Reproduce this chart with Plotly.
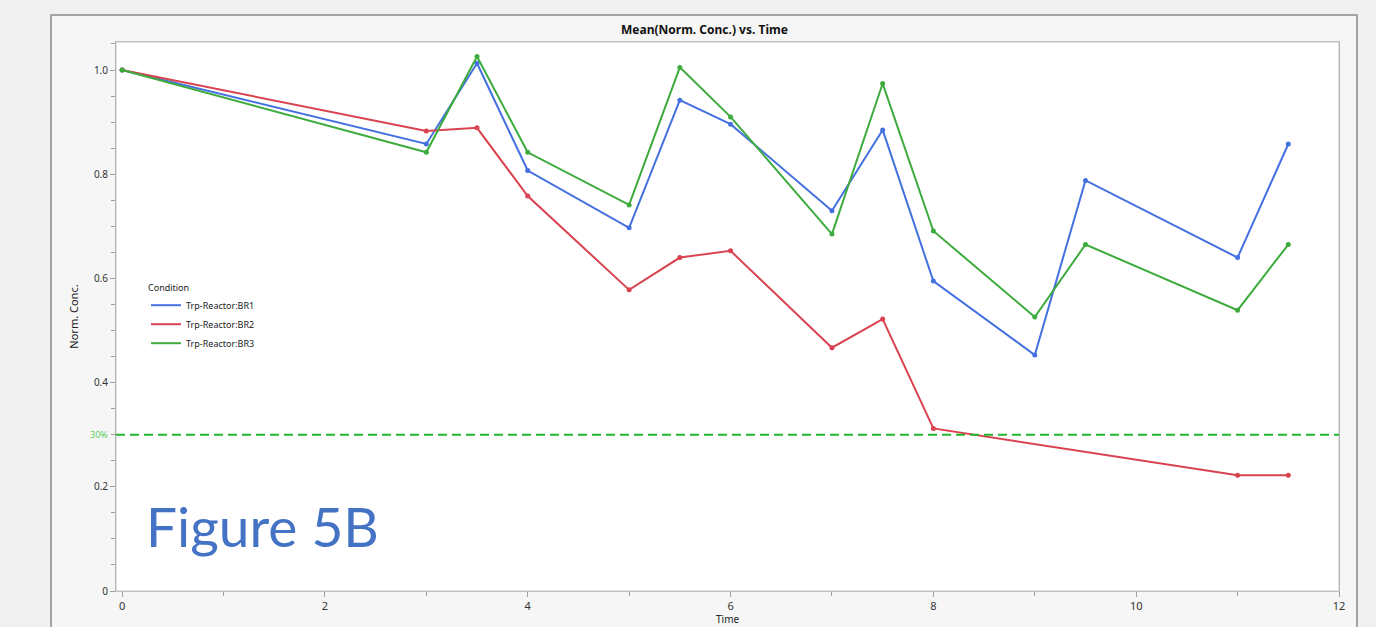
import plotly.graph_objects as go

# ---- data ----
time_br1 = [0, 3, 3.5, 4, 5, 5.5, 6, 7, 7.5, 8, 9, 9.5, 11, 11.5]
conc_br1 = [1.0, 0.858, 1.013, 0.807, 0.697, 0.942, 0.896, 0.730, 0.885, 0.595, 0.453, 0.788, 0.640, 0.858]

time_br2 = [0, 3, 3.5, 4, 5, 5.5, 6, 7, 7.5, 8, 11, 11.5]
conc_br2 = [1.0, 0.883, 0.889, 0.758, 0.578, 0.640, 0.653, 0.467, 0.522, 0.312, 0.222, 0.222]

time_br3 = [0, 3, 3.5, 4, 5, 5.5, 6, 7, 7.5, 8, 9, 9.5, 11, 11.5]
conc_br3 = [1.0, 0.842, 1.026, 0.842, 0.741, 1.005, 0.910, 0.685, 0.974, 0.691, 0.526, 0.665, 0.539, 0.665]

series_names = ["Trp-Reactor:BR1", "Trp-Reactor:BR2", "Trp-Reactor:BR3"]
series_colors = ["#4470E0", "#D9434F", "#3DAB3D"]

threshold = 0.3
threshold_label = "30%"

x_ticks = [0, 2, 4, 6, 8, 10, 12]
y_ticks = [0, 0.2, 0.4, 0.6, 0.8, 1.0]
y_tick_text = ["0", "0.2", "0.4", "0.6", "0.8", "1.0"]

# ---- geometry helpers (pixel layout of the 1376x627 page) ----
W, H = 1376, 627
L, R, T, B = 116, 1339, 42, 591


def px(x):
    return (x - L) / (R - L)


def py(y):
    return (B - y) / (B - T)


FONT = "Noto Sans"

fig = go.Figure()
for t, c, name, col in zip([time_br1, time_br2, time_br3],
                           [conc_br1, conc_br2, conc_br3],
                           series_names, series_colors):
    fig.add_trace(go.Scatter(
        x=t, y=c, name=name, legendgroup=name, mode="lines",
        line=dict(color=col, width=2),
    ))
    fig.add_trace(go.Scatter(
        x=t, y=c, name=name, legendgroup=name, mode="markers",
        marker=dict(color=col, size=5), showlegend=False,
    ))

shapes = [
    # outer frame
    dict(type="rect", xref="paper", yref="paper", layer="below",
         x0=px(51), x1=px(1357), y0=py(660), y1=py(15),
         fillcolor="#f6f6f6", line=dict(color="#a4a4a4", width=2)),
    # white plot area
    dict(type="rect", xref="paper", yref="paper", layer="below",
         x0=0, x1=1, y0=0, y1=1, fillcolor="white",
         line=dict(color="#c4c4c4", width=1)),
    # threshold line
    dict(type="line", xref="paper", yref="y", x0=0, x1=1,
         y0=threshold, y1=threshold,
         line=dict(color="#22B52E", width=2, dash="9px,5px")),
]

annotations = [
    dict(text="<b>Mean(Norm. Conc.) vs. Time</b>", xref="paper", yref="paper",
         x=px(704), y=py(30), xanchor="center", yanchor="middle",
         showarrow=False, font=dict(family=FONT, size=12, color="#111111")),
    dict(text=threshold_label, xref="paper", yref="y", x=px(110), y=threshold,
         xanchor="right", yanchor="middle", showarrow=False,
         font=dict(family=FONT, size=9, color="#5ccc5c")),
    dict(text="Figure 5B", xref="paper", yref="paper",
         x=px(144), y=py(526), xanchor="left", yanchor="middle",
         showarrow=False, font=dict(family="Lato", size=55, color="#4472C4")),
    dict(text="Time", xref="paper", yref="paper",
         x=px(727), y=py(619), xanchor="center", yanchor="middle",
         showarrow=False, font=dict(family=FONT, size=10, color="#222222")),
]

fig.update_layout(
    width=W, height=H,
    margin=dict(l=L, r=W - R, t=T, b=H - B, autoexpand=False),
    paper_bgcolor="#f0f0f0",
    plot_bgcolor="rgba(0,0,0,0)",
    font=dict(family=FONT, size=10, color="#333333"),
    shapes=shapes,
    annotations=annotations,
    showlegend=True,
    legend=dict(
        x=px(146), y=py(279), xanchor="left", yanchor="top",
        bgcolor="rgba(0,0,0,0)", borderwidth=0,
        title=dict(text="Condition", font=dict(family=FONT, size=9, color="#222222")),
        font=dict(family=FONT, size=9, color="#222222"),
        itemwidth=30, tracegroupgap=0,
    ),
    xaxis=dict(
        range=[-0.06, 12], tickvals=x_ticks, ticks="outside", ticklen=5,
        tickcolor="#a0a0a0", showgrid=False, zeroline=False, automargin=False,
        showline=True, linecolor="#c0c0c0", linewidth=1, mirror=True,
        minor=dict(dtick=1, ticks="outside", ticklen=4, tickcolor="#a0a0a0"),
        tickfont=dict(family=FONT, size=11, color="#333333"),
        ticklabelstandoff=0,
    ),
    yaxis=dict(
        range=[0, (B - T) / (B - 70)], tickvals=y_ticks, ticktext=y_tick_text,
        ticks="outside", ticklen=5, tickcolor="#a0a0a0",
        showgrid=False, zeroline=False, automargin=False,
        showline=True, linecolor="#b4b4b4", linewidth=1, mirror=True,
        minor=dict(dtick=0.05, ticks="outside", ticklen=4, tickcolor="#a0a0a0"),
        tickfont=dict(family=FONT, size=10, color="#333333"),
        title=dict(text="Norm. Conc.", standoff=13, font=dict(family=FONT, size=11, color="#222222")),
    ),
)

fig.write_html(
    "out.html",
    config={"displayModeBar": False},
    post_script="document.body.style.margin='0';document.body.style.overflow='hidden';",
)
